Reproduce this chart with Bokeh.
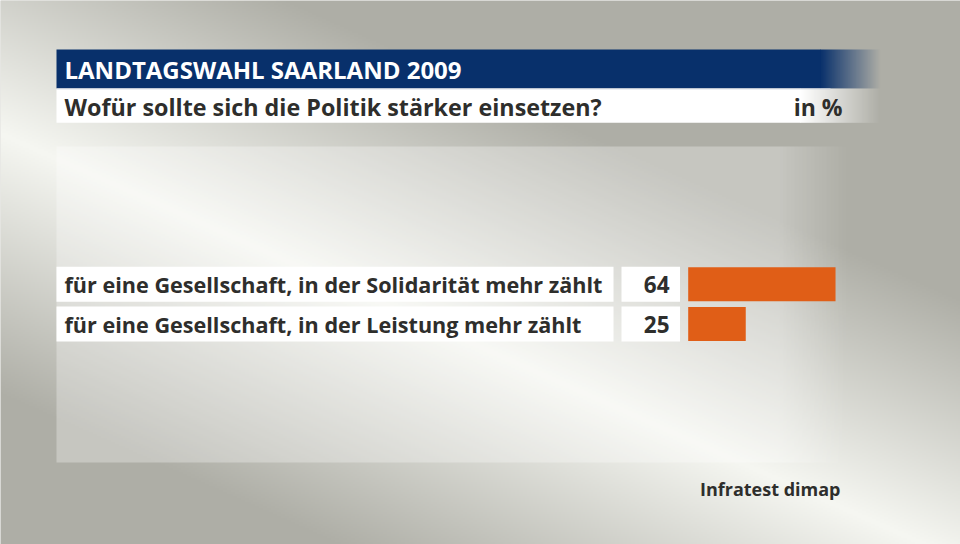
import numpy as np
from bokeh.plotting import figure
from bokeh.models import Range1d
from bokeh.core.properties import value
from bokeh.embed import file_html
from bokeh.resources import INLINE

# ---------------- data ----------------
title = "LANDTAGSWAHL SAARLAND 2009"
subtitle = "Wofür sollte sich die Politik stärker einsetzen?"
unit_label = "in %"
source_label = "Infratest dimap"
categories = [
    "für eine Gesellschaft, in der Solidarität mehr zählt",
    "für eine Gesellschaft, in der Leistung mehr zählt",
]
values = [64, 25]

# ---------------- layout helpers (reference px -> data) ----------------
W, H = 960, 544
BAR0 = 687.7     # reference x where bars start (value 0)
PXU = 2.302      # pixels per percentage point
ROW0 = 283.8     # centre of first row (reference y)
ROWSTEP = 39.8
BARH = 34.0

def X(xr):
    return (np.asarray(xr, float) - BAR0) / PXU

def Y(yr):
    return 544.0 - np.asarray(yr, float)

FONT = value("Open Sans")
DARK = "#2e2e2c"
BAR_COLOR = "#e05e17"
BLUE_RGB = (8, 48, 107)
BLUE = "#08306b"

p = figure(width=W, height=H, output_backend="svg", toolbar_location=None,
           x_range=Range1d(float(X(0)), float(X(960))), y_range=Range1d(0, 544),
           min_border=0)
p.axis.visible = False
p.grid.visible = False
p.outline_line_color = None
p.background_fill_color = "#d0d0c9"
p.border_fill_color = "#d0d0c9"


def rgba_image(r, g, b, a):
    ny, nx = a.shape
    img = np.empty((ny, nx), dtype=np.uint32)
    v = img.view(dtype=np.uint8).reshape((ny, nx, 4))
    v[:, :, 0] = r
    v[:, :, 1] = g
    v[:, :, 2] = b
    v[:, :, 3] = a
    return img

# ---------------- background gradient ----------------
nx, ny = 480, 272
xs = (np.arange(nx) + 0.5) * 2.0
ys = 544 - (np.arange(ny) + 0.5) * 2.0
XX, YY = np.meshgrid(xs, ys)
hx, hy = 0.914, 0.406
d = (XX - 60) * hy - (YY - 160) * hx
t = np.clip(np.abs(d) / 240.0, 0, 1)
light = np.array([246, 247, 242], float)
darkc = np.array([174, 174, 166], float)
chan = [(light[k] + (darkc[k] - light[k]) * t).astype(np.uint8) for k in range(3)]
bg = rgba_image(chan[0], chan[1], chan[2], np.full((ny, nx), 255, np.uint8))
p.image_rgba(image=[bg], x=float(X(0)), y=0, dw=float(X(960) - X(0)), dh=544)

# ---------------- panel (light overlay, fading at right) ----------------
pw = 200
pa = np.ones(pw)
px = np.linspace(56, 850, pw)
pa[px > 780] = np.clip((850 - px[px > 780]) / 70.0, 0, 1)
pa = (pa * 0.3 * 255).astype(np.uint8)[None, :]
panel = rgba_image(255, 255, 255, pa)
p.image_rgba(image=[panel], x=float(X(56)), y=float(Y(462)), dw=float(X(850) - X(56)), dh=316)

# ---------------- header banner (fading at right) ----------------
fw = 60
fa = ((1 - (np.arange(fw) + 0.5) / fw) * 255).astype(np.uint8)[None, :]
p.quad(left=[float(X(56))], right=[float(X(820.5))], top=[float(Y(49))], bottom=[float(Y(88))],
       fill_color=BLUE, line_color=None)
p.image_rgba(image=[rgba_image(BLUE_RGB[0], BLUE_RGB[1], BLUE_RGB[2], fa)],
             x=float(X(820)), y=float(Y(88)), dw=float(X(880) - X(820)), dh=39)

# subtitle white box
p.quad(left=[float(X(56))], right=[float(X(800.5))], top=[float(Y(88))], bottom=[float(Y(122.3))],
       fill_color="white", line_color=None)
sw = 80
sa = ((1 - (np.arange(sw) + 0.5) / sw) * 255).astype(np.uint8)[None, :]
p.image_rgba(image=[rgba_image(255, 255, 255, sa)],
             x=float(X(800)), y=float(Y(122.3)), dw=float(X(880) - X(800)), dh=34.3)
p.segment(x0=[float(X(56))], x1=[float(X(830))], y0=[float(Y(88.3))], y1=[float(Y(88.3))],
          line_color="#c3cbd9", line_width=1)

p.text(x=[float(X(64))], y=[float(Y(69))], text=[title], text_font=FONT, text_font_style="bold",
       text_font_size="24px", text_color="white", text_baseline="middle", text_align="left")
p.text(x=[float(X(64))], y=[float(Y(106))], text=[subtitle], text_font=FONT, text_font_style="bold",
       text_font_size="23.3px", text_color=DARK, text_baseline="middle", text_align="left")
p.text(x=[float(X(842))], y=[float(Y(106))], text=[unit_label], text_font=FONT, text_font_style="bold",
       text_font_size="23px", text_color=DARK, text_baseline="middle", text_align="right")

# ---------------- rows ----------------
rows_y = [float(Y(ROW0 + ROWSTEP * i)) for i in range(len(categories))]
half = BARH / 2 + 0.5
nrow = len(rows_y)
p.quad(left=[float(X(56))] * nrow, right=[float(X(613))] * nrow,
       top=[y + half for y in rows_y], bottom=[y - half for y in rows_y],
       fill_color="white", line_color=None)
p.quad(left=[float(X(621))] * nrow, right=[float(X(679.5))] * nrow,
       top=[y + half for y in rows_y], bottom=[y - half for y in rows_y],
       fill_color="white", line_color=None)
p.hbar(y=rows_y, height=BARH, left=0, right=values, fill_color=BAR_COLOR, line_color=None)

p.text(x=[float(X(64))] * nrow, y=rows_y, text=categories, text_font=FONT,
       text_font_style="bold", text_font_size="21.6px", text_color=DARK,
       text_baseline="middle", text_align="left")
p.text(x=[float(X(669))] * nrow, y=rows_y, text=[str(v) for v in values], text_font=FONT,
       text_font_style="bold", text_font_size="22.5px", text_color=DARK,
       text_baseline="middle", text_align="right")

# ---------------- source ----------------
p.text(x=[float(X(840))], y=[float(Y(488))], text=[source_label], text_font=FONT, text_font_style="bold",
       text_font_size="18px", text_color=DARK, text_baseline="middle", text_align="right")

open("out.html", "w").write(file_html(p, INLINE))
